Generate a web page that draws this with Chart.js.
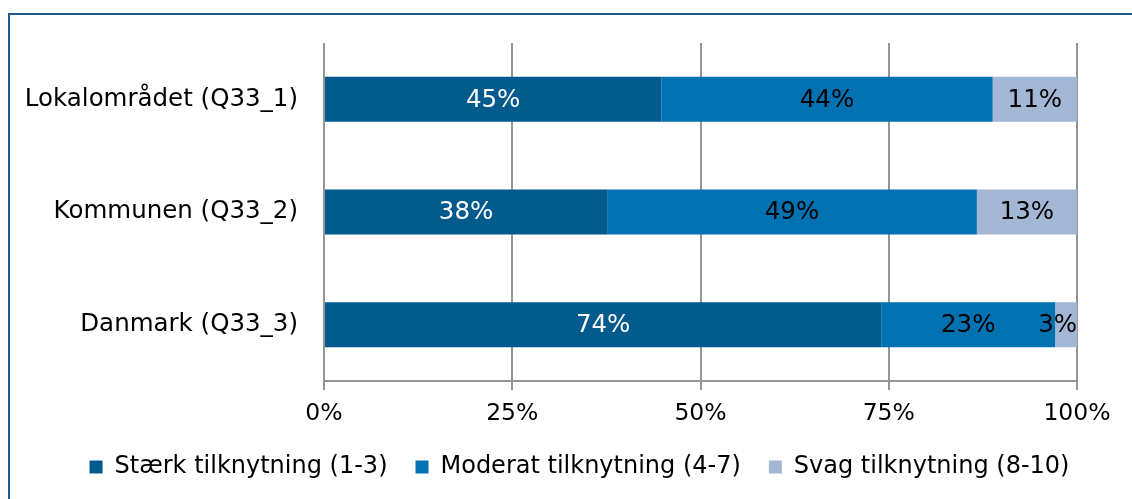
<!DOCTYPE html>
<html>
<head>
<meta charset="utf-8">
<script src="https://cdn.jsdelivr.net/npm/chart.js@4"></script>
<style>
  html, body { margin: 0; padding: 0; background: #fff; overflow: hidden; }
  #frame {
    position: absolute; left: 8px; top: 13px;
    width: 1200px; height: 600px;
    border: 2px solid #1c5d8d;
  }
  #wrap { position: absolute; left: 0; top: 0; }
</style>
</head>
<body>
<div id="frame"></div>
<div id="wrap"><canvas id="myChart" width="1132" height="499"></canvas></div>
<script>
// categories and series (percent of respondents)
let categories = ["Lokalområdet (Q33_1)", "Kommunen (Q33_2)", "Danmark (Q33_3)"];
let seriesNames = ["Stærk tilknytning (1-3)", "Moderat tilknytning (4-7)", "Svag tilknytning (8-10)"];
let staerk = [44.8, 37.6, 74.0];
let moderat = [44.0, 49.1, 23.1];
let svag = [11.2, 13.3, 2.9];
let tickValues = [0, 25, 50, 75, 100];

let colors = ["#035a8d", "#0071b1", "#a3b6d3"];
let labelColors = ["#ffffff", "#000000", "#000000"];

let fontFamily = "'DejaVu Sans', Verdana, sans-serif";
Chart.defaults.font.family = fontFamily;
Chart.defaults.font.size = 23;
Chart.defaults.color = "#000";

// writes the rounded value in the middle of each segment,
// pushed back inside the plot when it would stick out on the right
var segmentLabels = {
    id: "segmentLabels",
    afterDatasetsDraw: function (chart) {
        var ctx = chart.ctx;
        ctx.save();
        ctx.font = "24.5px " + fontFamily;
        ctx.textAlign = "center";
        ctx.textBaseline = "middle";
        chart.data.datasets.forEach(function (ds, i) {
            var meta = chart.getDatasetMeta(i);
            meta.data.forEach(function (bar, j) {
                var txt = Math.round(ds.data[j]) + "%";
                var w = ctx.measureText(txt).width;
                var cx = (bar.x + bar.base) / 2;
                if (cx + w / 2 > chart.chartArea.right) cx = chart.chartArea.right - w / 2;
                ctx.fillStyle = labelColors[i];
                ctx.fillText(txt, cx, bar.y + 1);
            });
        });
        ctx.restore();
    }
};

// legend sits a bit right of the canvas centre in the original
var legendShift = {
    id: "legendShift",
    afterLayout: function (chart) {
        chart.legend.left += 36;
        chart.legend.right += 36;
    }
};

var ctx = document.getElementById('myChart').getContext('2d');
var myChart = new Chart(ctx, {
    type: 'bar',
    data: {
        labels: categories,
        datasets: [
            { label: seriesNames[0], data: staerk, backgroundColor: colors[0] },
            { label: seriesNames[1], data: moderat, backgroundColor: colors[1] },
            { label: seriesNames[2], data: svag, backgroundColor: colors[2] }
        ]
    },
    options: {
        responsive: false,
        animation: false,
        indexAxis: 'y',
        layout: { padding: { left: 10, right: 55, top: 43, bottom: 10 } },
        datasets: { bar: { categoryPercentage: 1, barPercentage: 0.4 } },
        scales: {
            x: {
                stacked: true,
                min: 0,
                max: 100,
                afterBuildTicks: function (scale) {
                    scale.ticks = tickValues.map(function (v) { return { value: v }; });
                },
                afterFit: function (scale) { scale.height = 46; },
                grid: { color: "#959595", lineWidth: 2, tickLength: 9 },
                border: { color: "#959595", width: 2 },
                ticks: {
                    padding: 10,
                    maxRotation: 0,
                    font: { size: 23.5 },
                    callback: function (v) { return v + "%"; }
                }
            },
            y: {
                stacked: true,
                afterFit: function (scale) { scale.width = 314; },
                grid: { display: false, drawTicks: false },
                border: { display: false },
                ticks: { padding: 26, font: { size: 24.5 } }
            }
        },
        plugins: {
            legend: {
                position: 'bottom',
                labels: { boxWidth: 13, boxHeight: 13, padding: 28, font: { size: 24 } }
            },
            tooltip: { enabled: false }
        }
    },
    plugins: [segmentLabels, legendShift]
});
</script>
</body>
</html>
